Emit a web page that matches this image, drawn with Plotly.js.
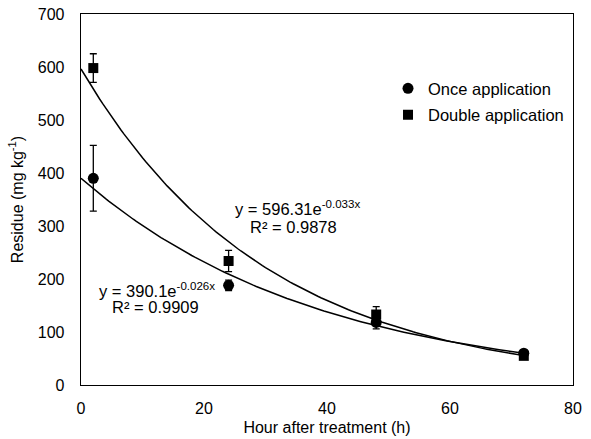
<!DOCTYPE html>
<html><head><meta charset="utf-8">
<script src="https://cdn.plot.ly/plotly-3.0.1.min.js"></script>
<style>html,body{margin:0;padding:0;background:#fff}#chart{width:591px;height:439px}</style>
</head><body><div id="chart"></div>
<script>
const hours = [2, 24, 48, 72];
const onceValues = [390, 188, 118, 60];
const onceErrors = [62, 10, 12, 4];
const doubleValues = [598, 234, 133, 55];
const doubleErrors = [27, 20, 15, 4];
const onceFit = {a: 390.1, k: 0.026, r2: '0.9909'};
const doubleFit = {a: 596.31, k: 0.033, r2: '0.9878'};
const fitRangeEnd = 72;

function fitCurve(f){
  const xs=[], ys=[];
  for(let i=0;i<=144;i++){const x=fitRangeEnd*i/144; xs.push(x); ys.push(f.a*Math.exp(-f.k*x));}
  return {xs, ys};
}
const c1 = fitCurve(onceFit), c2 = fitCurve(doubleFit);
const fam = '"Liberation Sans", Arial, sans-serif';
const font = {family:fam, size:16, color:'#000'};
const eqFont = {family:fam, size:16.5, color:'#000'};
const legFont = {family:fam, size:16.5, color:'#000'};
const traces = [
  {x:c1.xs, y:c1.ys, mode:'lines', line:{color:'#000', width:1.5}, showlegend:false, hoverinfo:'skip'},
  {x:c2.xs, y:c2.ys, mode:'lines', line:{color:'#000', width:1.5}, showlegend:false, hoverinfo:'skip'},
  {x:hours, y:onceValues, name:'Once application', mode:'markers', legendgroup:'a',
   marker:{symbol:'circle', size:11, color:'#000'},
   error_y:{type:'data', array:onceErrors, visible:true, color:'#000', thickness:1.3, width:3.5}},
  {x:hours, y:doubleValues, name:'Double application', mode:'markers', legendgroup:'b',
   marker:{symbol:'square', size:10, color:'#000'},
   error_y:{type:'data', array:doubleErrors, visible:true, color:'#000', thickness:1.3, width:3.5}}
];
const layout = {
  width:591, height:439,
  margin:{l:81, r:18, t:14, b:54},
  paper_bgcolor:'#fff', plot_bgcolor:'#fff',
  font:font,
  showlegend:true,
  legend:{x:0.624, y:0.846, xanchor:'left', yanchor:'top', bgcolor:'rgba(0,0,0,0)', font:legFont, tracegroupgap:2, itemwidth:30},
  xaxis:{range:[0,80], dtick:20, showgrid:false, zeroline:false, showline:true, mirror:true, linecolor:'#000', linewidth:1.3,
         ticks:'', ticklabelstandoff:8, tickfont:font,
         title:{text:'Hour after treatment (h)', font:font, standoff:6}},
  yaxis:{range:[0,700], dtick:100, showgrid:false, zeroline:false, showline:true, mirror:true, linecolor:'#000', linewidth:1.3,
         ticks:'', ticklabelstandoff:12, tickfont:font,
         title:{text:'Residue (mg kg<sup>-1</sup>)', font:font, standoff:10}},
  annotations:[
    {xref:'x', yref:'y', x:24.7, y:334, xanchor:'left', yanchor:'middle', showarrow:false, font:eqFont,
     text:'y = '+doubleFit.a+'e<sup>-'+doubleFit.k.toFixed(3)+'x</sup>'},
    {xref:'x', yref:'y', x:27.2, y:298, xanchor:'left', yanchor:'middle', showarrow:false, font:eqFont,
     text:'R² = '+doubleFit.r2},
    {xref:'x', yref:'y', x:2.6, y:179, xanchor:'left', yanchor:'middle', showarrow:false, font:eqFont,
     text:'y = '+onceFit.a+'e<sup>-'+onceFit.k.toFixed(3)+'x</sup>'},
    {xref:'x', yref:'y', x:4.7, y:147, xanchor:'left', yanchor:'middle', showarrow:false, font:eqFont,
     text:'R² = '+onceFit.r2}
  ]
};
Plotly.newPlot('chart', traces, layout, {displayModeBar:false, staticPlot:true});
</script></body></html>
